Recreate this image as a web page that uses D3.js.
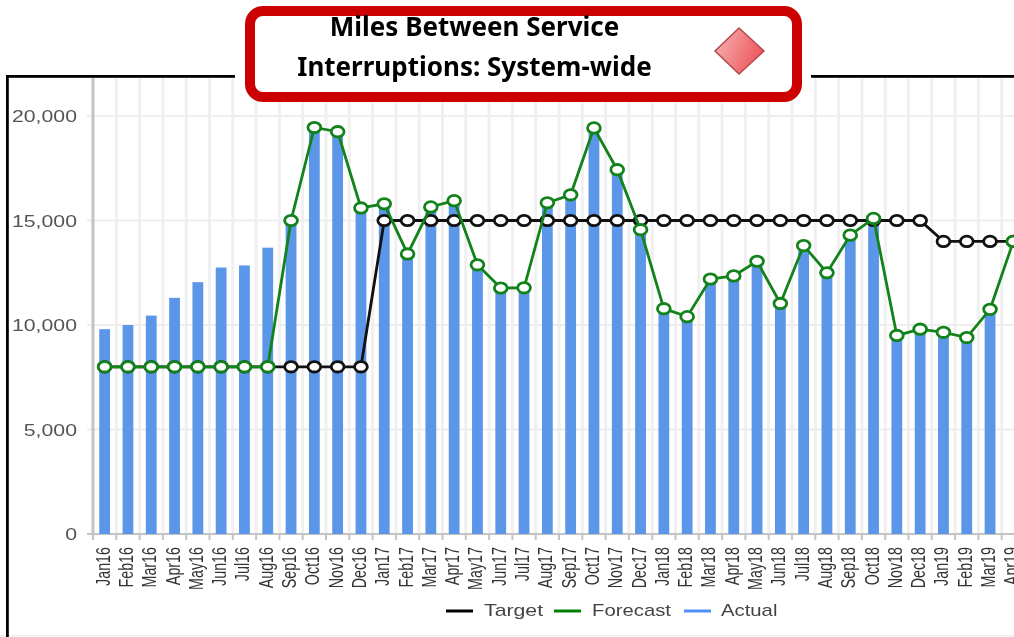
<!DOCTYPE html>
<html><head><meta charset="utf-8">
<script src="https://cdn.jsdelivr.net/npm/d3@7"></script>
<style>html,body{margin:0;padding:0;background:#fff;overflow:hidden}svg{display:block}</style>
</head><body><svg id="c" width="1014" height="637"></svg>
<script>
const months = ["Jan16","Feb16","Mar16","Apr16","May16","Jun16","Jul16","Aug16","Sep16","Oct16","Nov16","Dec16",
"Jan17","Feb17","Mar17","Apr17","May17","Jun17","Jul17","Aug17","Sep17","Oct17","Nov17","Dec17",
"Jan18","Feb18","Mar18","Apr18","May18","Jun18","Jul18","Aug18","Sep18","Oct18","Nov18","Dec18",
"Jan19","Feb19","Mar19","Apr19"];
const target = [8000,8000,8000,8000,8000,8000,8000,8000,8000,8000,8000,8000,
15000,15000,15000,15000,15000,15000,15000,15000,15000,15000,15000,15000,
15000,15000,15000,15000,15000,15000,15000,15000,15000,15000,15000,15000,
14000,14000,14000,14000];
const forecast = [8000,8000,8000,8000,8000,8000,8000,8000,15000,19450,19250,15600,
15800,13400,15650,15950,12880,11770,11780,15850,16230,19430,17430,14560,
10780,10400,12200,12350,13050,11030,13800,12500,14300,15100,9500,9800,
9650,9400,10750,14000];
const actual = [9800,10000,10450,11300,12050,12750,12850,13700,15000,19450,19250,15600,
15800,13400,15650,15950,12880,11770,11780,15850,16230,19430,17430,14560,
10780,10400,12200,12350,13050,11030,13800,12500,14300,15100,9500,9800,
9650,9400,10750];
const yTicks = [0,5000,10000,15000,20000];
const legendItems = ["Target","Forecast","Actual"];
const titleLines = ["Miles Between Service","Interruptions: System-wide"];

const svg = d3.select("#c");
const x = d3.scaleBand().domain(months).range([93, 93 + 23.3 * 40]);
const y = d3.scaleLinear().domain([0,20000]).range([534,116]);
const plot = svg.append("g").style("filter","blur(0.6px)");
const font = "'Liberation Sans',Arial,sans-serif";

// grid
plot.append("g").selectAll("line").data(months).join("line")
  .attr("x1",d=>x(d)+x.bandwidth()).attr("x2",d=>x(d)+x.bandwidth())
  .attr("y1",78).attr("y2",534).attr("stroke","#f0f0f0").attr("stroke-width",3);
plot.append("g").selectAll("line").data(yTicks.filter(d=>d>0)).join("line")
  .attr("x1",87).attr("x2",1014).attr("y1",d=>y(d)).attr("y2",d=>y(d))
  .attr("stroke","#eeeeee").attr("stroke-width",2);
plot.append("line").attr("x1",93).attr("x2",93).attr("y1",78).attr("y2",534)
  .attr("stroke","#c4c4c4").attr("stroke-width",3);

// y axis
const yAxis = plot.append("g").attr("transform","translate(93,0)")
  .call(d3.axisLeft(y).tickValues(yTicks).tickFormat(d3.format(",")).tickSize(0).tickPadding(0));
yAxis.select(".domain").remove();
yAxis.selectAll("text").attr("x",null).attr("dx",null).attr("dy",null)
  .attr("text-anchor","end").attr("font-family",font).attr("font-size",16).attr("fill","#555")
  .attr("transform","translate(-16,5.7) scale(1.33,1)");

// x axis
const xAxis = plot.append("g").attr("transform","translate(0,534)")
  .call(d3.axisBottom(x).tickSize(0).tickPadding(0));
xAxis.select(".domain").attr("stroke","#c4c4c4").attr("stroke-width",2).attr("d","M87,0H1014");
xAxis.selectAll("text").attr("y",null).attr("dy",null).attr("font-family",font).attr("font-size",14.3)
  .attr("fill","#333").attr("text-anchor","end")
  .attr("transform","translate(5,13) scale(1.42,1) rotate(-90)");
plot.append("g").selectAll("line").data(months).join("line")
  .attr("x1",d=>x(d)+x.bandwidth()).attr("x2",d=>x(d)+x.bandwidth())
  .attr("y1",534).attr("y2",540).attr("stroke","#c4c4c4").attr("stroke-width",2);
plot.append("line").attr("x1",93).attr("x2",93).attr("y1",534).attr("y2",540).attr("stroke","#c4c4c4").attr("stroke-width",2);

// bars
plot.append("g").selectAll("rect").data(actual).join("rect")
  .attr("x",(d,i)=>x(months[i])+x.bandwidth()/2-5.4).attr("width",10.8)
  .attr("y",d=>y(d)).attr("height",d=>y(0)-y(d)).attr("fill","#5c96e8");

// lines
const line = d3.line().x((d,i)=>x(months[i])+x.bandwidth()/2).y(d=>y(d));
function series(values,color){
  const g = plot.append("g");
  g.append("path").attr("d",line(values)).attr("fill","none").attr("stroke",color).attr("stroke-width",2.8);
  g.selectAll("ellipse").data(values).join("ellipse")
    .attr("cx",(d,i)=>x(months[i])+x.bandwidth()/2).attr("cy",d=>y(d))
    .attr("rx",6.4).attr("ry",5.2).attr("fill","#fff").attr("stroke",color).attr("stroke-width",2.8);
}
series(target,"#111");
series(forecast,"#12821a");

// legend
const legendX = [446,554,684], legendColors = ["#000","#008000","#4f90f0"];
const leg = plot.append("g").selectAll("g").data(legendItems).join("g")
  .attr("transform",(d,i)=>`translate(${legendX[i]},611)`);
leg.append("line").attr("x2",27).attr("stroke",(d,i)=>legendColors[i]).attr("stroke-width",3);
leg.append("text").text(d=>d).attr("font-family",font).attr("font-size",16).attr("fill","#444")
  .attr("transform",(d,i)=>`translate(${[38,38,37][i]},5) scale(${[1.33,1.27,1.27][i]},1)`);

// frame
const frame = svg.append("g");
frame.append("rect").attr("x",0).attr("y",635).attr("width",1014).attr("height",1.5).attr("fill","#eee");
frame.append("rect").attr("x",6).attr("y",75).attr("width",2.8).attr("height",562).attr("fill","#000");
frame.append("rect").attr("x",6).attr("y",75).attr("width",229).attr("height",2.8).attr("fill","#000");
frame.append("rect").attr("x",811).attr("y",75).attr("width",203).attr("height",2.8).attr("fill","#000");

// title box
const title = svg.append("g");
title.append("rect").attr("x",250).attr("y",11).attr("width",547).attr("height",86).attr("rx",13)
  .attr("fill","#fff").attr("stroke","#cc0000").attr("stroke-width",10);
title.selectAll("text").data(titleLines).join("text").text(d=>d)
  .attr("x",474.5).attr("y",(d,i)=>36+i*40).attr("text-anchor","middle")
  .attr("font-family","'Noto Sans','Open Sans',sans-serif").attr("font-weight",700).attr("font-size",26).attr("fill","#000");
const defs = svg.append("defs");
const gr = defs.append("linearGradient").attr("id","dg").attr("x1","0").attr("y1","0").attr("x2","1").attr("y2","0.4");
gr.append("stop").attr("offset","0").attr("stop-color","#f6b6b6");
gr.append("stop").attr("offset","1").attr("stop-color","#ee5a5f");
title.append("path").attr("d",d3.line()([[739,28],[764,51],[739,74],[715,51]])+"Z")
  .attr("fill","url(#dg)").attr("stroke","#b5494d").attr("stroke-width",1.5);
</script></body></html>
